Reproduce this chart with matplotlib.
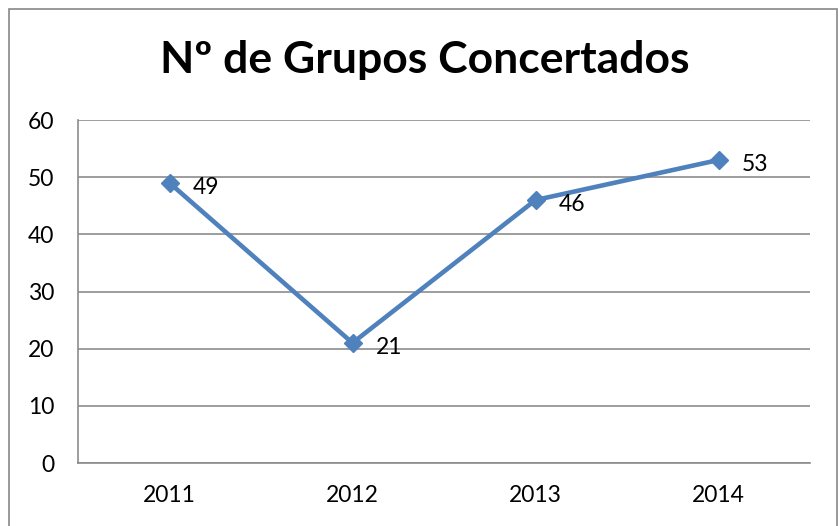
import matplotlib.pyplot as plt
from matplotlib.patches import Rectangle

# dados do gráfico
anos = ['2011', '2012', '2013', '2014']
grupos = [49, 21, 46, 53]
titulo = 'Nº de Grupos Concertados'

plt.rcParams['font.family'] = ['Lato', 'DejaVu Sans']

fig = plt.figure(figsize=(8.39, 5.26), dpi=100)
ax = fig.add_axes([78 / 839, 1 - 463 / 526, 732 / 839, 343 / 526])

x = range(len(anos))
ax.plot(x, grupos, color='#4F81BD', linewidth=3.3, marker='D', markersize=9,
        solid_capstyle='round', zorder=3)

# rótulos de dados à direita de cada ponto
for xi, v in zip(x, grupos):
    ax.annotate(str(v), (xi, v), xytext=(17, -3), textcoords='offset points',
                ha='left', va='center', fontsize=16.5)

ax.set_xlim(-0.5, len(anos) - 0.5)
ax.set_ylim(0, 60)
ax.set_yticks(range(0, 61, 10))
ax.set_xticks(list(x))
ax.set_xticklabels(anos)
ax.tick_params(axis='both', length=0, labelsize=16.5)
ax.tick_params(axis='y', pad=17)
ax.tick_params(axis='x', pad=16)
ax.yaxis.grid(True, color='#8c8c8c', linewidth=1.2)
ax.set_axisbelow(True)
for s in ['top', 'right']:
    ax.spines[s].set_visible(False)
for s in ['left', 'bottom']:
    ax.spines[s].set_color('#8c8c8c')
    ax.spines[s].set_linewidth(1.2)

fig.text(425 / 839, 1 - 60 / 526, titulo, ha='center', va='center',
         fontsize=32, fontweight='bold')

# moldura do gráfico
fig.patches.append(Rectangle((9 / 839, -0.02), 828 / 839, 1 - 9 / 526 + 0.02,
                             transform=fig.transFigure, fill=False,
                             edgecolor='#888888', linewidth=1.2))

fig.savefig('out.png', dpi=100)
